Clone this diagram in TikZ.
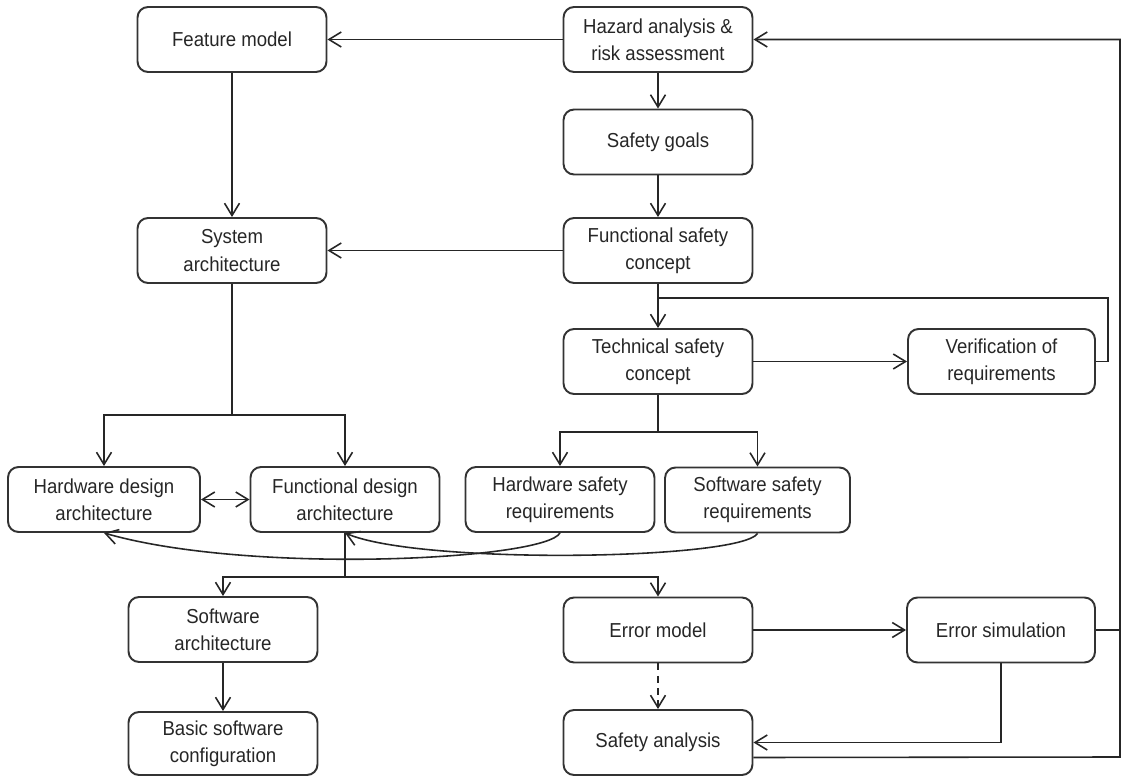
\documentclass[tikz,border=0pt]{standalone}
\usepackage{fontspec}
\setmainfont{Liberation Sans}[FakeStretch=0.92]
\usepackage{tikz}
\usetikzlibrary{arrows.meta,calc}
\tikzstyle{box}=[draw=black!80, line width=1.1pt, rounded corners=6pt, minimum width=3.78cm, minimum height=1.3cm, align=center, inner sep=2pt, font=\fontsize{11.5}{15.5}\selectfont, text=black!85]
\tikzstyle{plain}=[line width=0.9pt, draw=black!85]
\tikzstyle{link}=[plain, -{Straight Barb[length=7pt,width=8.5pt]}]
\tikzstyle{both}=[plain, {Straight Barb[length=7pt,width=8.5pt]}-{Straight Barb[length=7pt,width=8.5pt]}]

\begin{document}
\begin{tikzpicture}[x=0.02cm,y=-0.02cm]
	\useasboundingbox (0,0) rectangle (1129,776);
	\node[box] (fm) at (232,39.5) {Feature model};
	\node[box] (haz) at (658,39.5) {Hazard analysis \&\\risk assessment};
	\node[box] (sg) at (658,142) {Safety goals};
	\node[box] (sys) at (232,250.5) {System\\architecture};
	\node[box] (fsc) at (658,250.5) {Functional safety\\concept};
	\node[box] (tsc) at (658,361.5) {Technical safety\\concept};
	\node[box, minimum width=3.74cm] (ver) at (1001.5,361.5) {Verification of\\requirements};
	\node[box, minimum width=3.84cm] (hwd) at (104,499.5) {Hardware design\\architecture};
	\node[box] (fdd) at (345,499.5) {Functional design\\architecture};
	\node[box] (hws) at (560,499.5) {Hardware safety\\requirements};
	\node[box, minimum width=3.7cm] (sws) at (757.5,500) {Software safety\\requirements};
	\node[box] (swa) at (223,629.5) {Software\\architecture};
	\node[box] (em) at (658,630) {Error model};
	\node[box, minimum width=3.76cm] (es) at (1001,630) {Error simulation};
	\node[box, minimum height=1.26cm] (bsc) at (223,743.5) {Basic software\\configuration};
	\node[box] (sa) at (658,742.5) {Safety analysis};
	\coordinate (fb) at (1108,298);
	\coordinate (fbj) at (658,298);
	\coordinate (sysj) at (232,415);
	\coordinate (tscj) at (658,432);
	\coordinate (fddj) at (345,577);
	\coordinate (rb) at (1120,757);
	\draw[link] (haz.west) -- (fm.east);
	\draw[link] (haz.south) -- (sg.north);
	\draw[link] (sg.south) -- (fsc.north);
	\draw[link] (fm.south) -- (sys.north);
	\draw[link] (fsc.west) -- (sys.east);
	\draw[link] (fsc.south) -- (tsc.north);
	\draw[link] (tsc.east) -- (ver.west);
	\draw[plain] (ver.east) -| (fb) -- (fbj);
	\draw[plain] (sys.south) -- (sysj);
	\draw[link] (sysj) -| (hwd.north);
	\draw[link] (sysj) -| (fdd.north);
	\draw[plain] (tsc.south) -- (tscj);
	\draw[link] (tscj) -| (hws.north);
	\draw[link] (tscj) -| (sws.north);
	\draw[both] (hwd.east) -- (fdd.west);
	\draw[link] (hws.south) .. controls (545,560) and (250,575) .. (hwd.south);
	\draw[link] (sws.south) .. controls (740,560) and (420,565) .. (fdd.south);
	\draw[plain] (fdd.south) -- (fddj);
	\draw[link] (fddj) -| (swa.north);
	\draw[link] (fddj) -| (em.north);
	\draw[link] (swa.south) -- (bsc.north);
	\draw[link, dash pattern=on 4pt off 3pt] (em.south) -- (sa.north);
	\draw[link] (em.east) -- (es.west);
	\draw[link] (es.south) |- (sa.east);
	\draw[plain] (es.east) -- (es.east -| rb);
	\draw[link] ($(sa.east)+(0,15)$) -- (rb) |- (haz.east);
\end{tikzpicture}
\end{document}
